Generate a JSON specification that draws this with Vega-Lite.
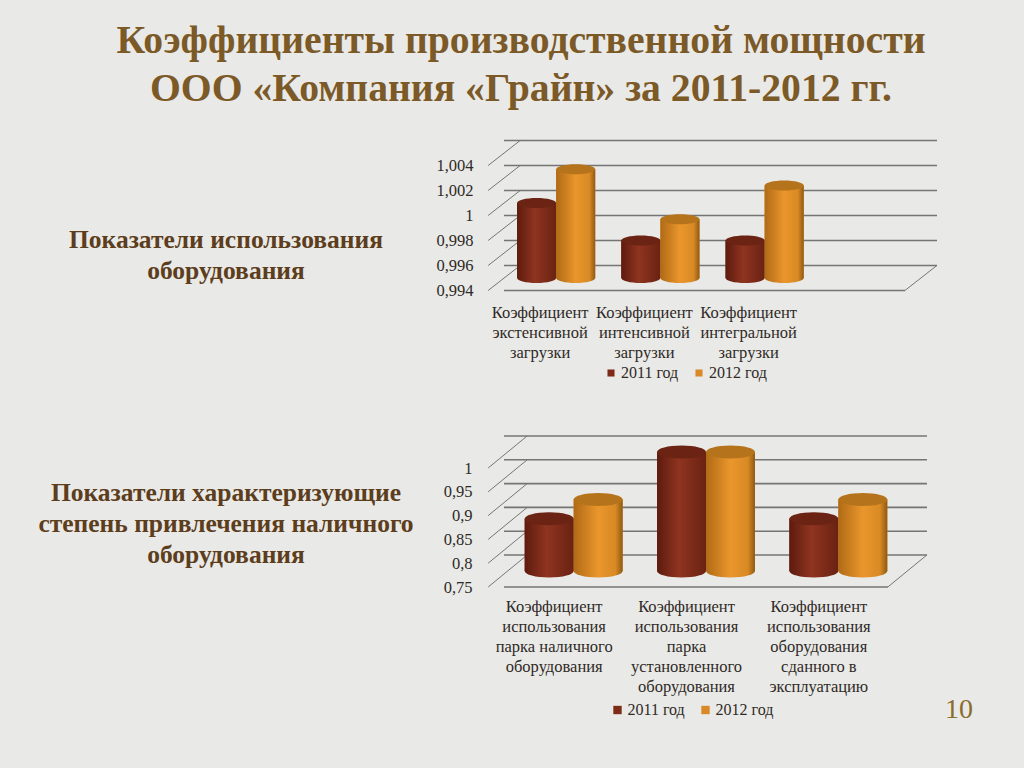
{"$schema":"https://vega.github.io/schema/vega-lite/v6.json","padding":{"left":0,"top":20,"right":0,"bottom":0},"background":"#e9e9e7","title":{"text":["Коэффициенты производственной мощности","ООО «Компания «Грайн» за 2011-2012 гг."],"font":"Liberation Serif","fontWeight":"bold","fontSize":39.7,"lineHeight":48,"color":"#7b5a28","anchor":"start","align":"center","dx":521,"offset":29},"config":{"view":{"stroke":null},"font":"Liberation Serif","axisY":{"labelOverlap":false}},"columns":3,"spacing":{"row":174,"column":0},"bounds":"flush","align":"all","resolve":{"scale":{"color":"independent","xOffset":"independent"},"legend":{"color":"independent"}},"datasets":{"a":[{"cat":"Коэффициент\nэкстенсивной\nзагрузки","series":"2011 год","val":1.0},{"cat":"Коэффициент\nэкстенсивной\nзагрузки","series":"2012 год","val":1.0027},{"cat":"Коэффициент\nинтенсивной\nзагрузки","series":"2011 год","val":0.997},{"cat":"Коэффициент\nинтенсивной\nзагрузки","series":"2012 год","val":0.9987},{"cat":"Коэффициент\nинтегральной\nзагрузки","series":"2011 год","val":0.997},{"cat":"Коэффициент\nинтегральной\nзагрузки","series":"2012 год","val":1.0014}],"b":[{"cat":"Коэффициент\nиспользования\nпарка наличного\nоборудования","series":"2011 год","val":0.86},{"cat":"Коэффициент\nиспользования\nпарка наличного\nоборудования","series":"2012 год","val":0.9},{"cat":"Коэффициент\nиспользования\nпарка\nустановленного\nоборудования","series":"2011 год","val":1.0},{"cat":"Коэффициент\nиспользования\nпарка\nустановленного\nоборудования","series":"2012 год","val":1.0},{"cat":"Коэффициент\nиспользования\nоборудования\nсданного в\nэксплуатацию","series":"2011 год","val":0.86},{"cat":"Коэффициент\nиспользования\nоборудования\nсданного в\nэксплуатацию","series":"2012 год","val":0.9}],"ta":[{"v":0.994},{"v":0.996},{"v":0.998},{"v":1.0},{"v":1.002},{"v":1.004}],"tb":[{"v":0.75},{"v":0.8},{"v":0.85},{"v":0.9},{"v":0.95},{"v":1.0}]},"concat":[{"width":504,"height":125,"data":{"values":[{"t":"Показатели использования\nоборудования"}]},"mark":{"type":"text","font":"Liberation Serif","fontWeight":"bold","fontSize":25.5,"lineHeight":31,"lineBreak":"\n","color":"#5c3d1c","dx":-26,"dy":24},"encoding":{"text":{"field":"t"}}},{"width":417,"height":125,"layer":[{"data":{"name":"ta"},"mark":{"type":"rule","color":"#757575","strokeWidth":1.6,"xOffset":16,"yOffset":-12.5},"encoding":{"y":{"field":"v","type":"quantitative","scale":{"domain":[0.994,1.004],"zero":false,"nice":false},"title":null,"axis":{"values":[0.994,0.996,0.998,1,1.002,1.004],"tickCount":6,"grid":false,"domain":false,"ticks":false,"labelPadding":31,"labelOffset":12.5,"labelFontSize":16.5,"labelColor":"#2f2a26","labelFont":"Liberation Serif","labelOverlap":false,"labelSeparation":0,"labelBound":false,"labelAlign":"right","labelBaseline":"middle","labelExpr":"replace(format(datum.value,'.3~f'),'.',',')"}}}},{"data":{"values":[{"v":0.994}]},"mark":{"type":"rule","color":"#757575","strokeWidth":1.6,"xOffset":-16,"yOffset":12.5},"encoding":{"y":{"field":"v","type":"quantitative"}}},{"data":{"name":"ta"},"mark":{"type":"point","shape":"M-68,12.5L-36,-12.5","size":4,"filled":false,"stroke":"#757575","strokeWidth":1,"opacity":1},"encoding":{"x":{"datum":"Коэффициент\nэкстенсивной\nзагрузки"},"y":{"field":"v","type":"quantitative"}}},{"data":{"values":[{"v":0.994}]},"mark":{"type":"point","shape":"M36,12.5L68,-12.5","size":4,"filled":false,"stroke":"#757575","strokeWidth":1,"opacity":1},"encoding":{"x":{"datum":" "},"y":{"field":"v","type":"quantitative"}}},{"data":{"name":"a"},"encoding":{"x":{"field":"cat","type":"nominal","title":null,"scale":{"type":"band","domain":["Коэффициент\nэкстенсивной\nзагрузки","Коэффициент\nинтенсивной\nзагрузки","Коэффициент\nинтегральной\nзагрузки"," "],"paddingInner":0.25,"paddingOuter":0.125},"axis":{"domain":false,"ticks":false,"labelAngle":0,"labelAlign":"center","labelBaseline":"top","labelPadding":26,"labelOffset":-16,"labelFontSize":16.5,"labelLineHeight":20,"labelColor":"#2f2a26","labelFont":"Liberation Serif","labelLimit":300,"labelExpr":"split(datum.value,'\\n')"}},"xOffset":{"field":"series","type":"nominal","scale":{"domain":["2011 год","2012 год"],"paddingInner":0,"paddingOuter":0}},"y":{"field":"val","type":"quantitative"}},"layer":[{"mark":{"type":"bar"},"encoding":{"y2":{"datum":0.994},"color":{"field":"series","type":"nominal","scale":{"domain":["2011 год","2012 год"],"range":["#7e2b18","#d98a26"]},"legend":{"title":null,"orient":"none","legendX":99,"legendY":212,"direction":"horizontal","columns":2,"symbolType":"square","symbolSize":50,"labelFontSize":16,"labelFont":"Liberation Serif","labelColor":"#2f2a26","columnPadding":12,"labelOffset":2,"symbolStrokeWidth":0}}}},{"transform":[{"filter":"datum.series=='2011 год'"}],"layer":[{"mark":{"type":"point","shape":"M-19.5,0A19.5,5 0 1,0 19.5,0A19.5,5 0 1,0 -19.5,0Z","size":4,"filled":true,"opacity":1,"fill":{"gradient":"linear","x1":0,"x2":1,"y1":0,"y2":0,"stops":[{"offset":0,"color":"#5d1b0e"},{"offset":0.45,"color":"#8f3420"},{"offset":1,"color":"#6a2212"}]}},"encoding":{"y":{"datum":0.994}}},{"mark":{"type":"bar","color":{"gradient":"linear","x1":0,"x2":1,"y1":0,"y2":0,"stops":[{"offset":0,"color":"#5d1b0e"},{"offset":0.45,"color":"#8f3420"},{"offset":1,"color":"#6a2212"}]}},"encoding":{"y2":{"datum":0.994}}},{"mark":{"type":"point","shape":"M-19.5,0A19.5,5 0 1,0 19.5,0A19.5,5 0 1,0 -19.5,0Z","size":4,"filled":true,"opacity":1,"fill":"#6b2313"}}]},{"transform":[{"filter":"datum.series=='2012 год'"}],"layer":[{"mark":{"type":"point","shape":"M-19.5,0A19.5,5 0 1,0 19.5,0A19.5,5 0 1,0 -19.5,0Z","size":4,"filled":true,"opacity":1,"fill":{"gradient":"linear","x1":0,"x2":1,"y1":0,"y2":0,"stops":[{"offset":0,"color":"#b06a16"},{"offset":0.5,"color":"#ea962c"},{"offset":0.85,"color":"#d98a24"},{"offset":1,"color":"#8f5a14"}]}},"encoding":{"y":{"datum":0.994}}},{"mark":{"type":"bar","color":{"gradient":"linear","x1":0,"x2":1,"y1":0,"y2":0,"stops":[{"offset":0,"color":"#b06a16"},{"offset":0.5,"color":"#ea962c"},{"offset":0.85,"color":"#d98a24"},{"offset":1,"color":"#8f5a14"}]}},"encoding":{"y2":{"datum":0.994}}},{"mark":{"type":"point","shape":"M-19.5,0A19.5,5 0 1,0 19.5,0A19.5,5 0 1,0 -19.5,0Z","size":4,"filled":true,"opacity":1,"fill":"#b5741c"}}]}]}]},{"width":39,"height":125,"data":{"values":[{"t":""}]},"mark":{"type":"text"},"encoding":{"text":{"field":"t"}}},{"width":504,"height":119,"data":{"values":[{"t":"Показатели характеризующие\nстепень привлечения наличного\nоборудования"}]},"mark":{"type":"text","font":"Liberation Serif","fontWeight":"bold","fontSize":25.5,"lineHeight":31,"lineBreak":"\n","color":"#5c3d1c","dx":-26,"dy":-18.5},"encoding":{"text":{"field":"t"}}},{"width":400,"height":119,"layer":[{"data":{"name":"tb"},"mark":{"type":"rule","color":"#757575","strokeWidth":1.6,"xOffset":23,"yOffset":-16},"encoding":{"y":{"field":"v","type":"quantitative","scale":{"domain":[0.75,1.0],"zero":false,"nice":false},"title":null,"axis":{"values":[0.75,0.8,0.85,0.9,0.95,1],"tickCount":6,"grid":false,"domain":false,"ticks":false,"labelPadding":32,"labelOffset":16,"labelFontSize":16.5,"labelColor":"#2f2a26","labelFont":"Liberation Serif","labelOverlap":false,"labelSeparation":0,"labelBound":false,"labelAlign":"right","labelBaseline":"middle","labelExpr":"replace(format(datum.value,'.2~f'),'.',',')"}}}},{"data":{"values":[{"v":0.75}]},"mark":{"type":"rule","color":"#757575","strokeWidth":1.6,"xOffset":-16,"yOffset":16},"encoding":{"y":{"field":"v","type":"quantitative"}}},{"data":{"name":"tb"},"mark":{"type":"point","shape":"M-85.5,16L-46.5,-16","size":4,"filled":false,"stroke":"#757575","strokeWidth":1,"opacity":1},"encoding":{"x":{"datum":"Коэффициент\nиспользования\nпарка наличного\nоборудования"},"y":{"field":"v","type":"quantitative"}}},{"data":{"values":[{"v":0.75}]},"mark":{"type":"point","shape":"M49.5,16L88.5,-16","size":4,"filled":false,"stroke":"#757575","strokeWidth":1,"opacity":1},"encoding":{"x":{"datum":"Коэффициент\nиспользования\nоборудования\nсданного в\nэксплуатацию"},"y":{"field":"v","type":"quantitative"}}},{"data":{"name":"b"},"encoding":{"x":{"field":"cat","type":"nominal","title":null,"scale":{"type":"band","range":[3.5,400.5],"domain":["Коэффициент\nиспользования\nпарка наличного\nоборудования","Коэффициент\nиспользования\nпарка\nустановленного\nоборудования","Коэффициент\nиспользования\nоборудования\nсданного в\nэксплуатацию"],"paddingInner":0.26,"paddingOuter":0.13},"axis":{"domain":false,"ticks":false,"labelAngle":0,"labelAlign":"center","labelBaseline":"top","labelPadding":27,"labelOffset":-19.5,"labelFontSize":16.5,"labelLineHeight":20,"labelColor":"#2f2a26","labelFont":"Liberation Serif","labelLimit":300,"labelExpr":"split(datum.value,'\\n')"}},"xOffset":{"field":"series","type":"nominal","scale":{"domain":["2011 год","2012 год"],"paddingInner":0,"paddingOuter":0}},"y":{"field":"val","type":"quantitative"}},"layer":[{"mark":{"type":"bar"},"encoding":{"y2":{"datum":0.75},"color":{"field":"series","type":"nominal","scale":{"domain":["2011 год","2012 год"],"range":["#7e2b18","#d98a26"]},"legend":{"title":null,"orient":"none","legendX":105.5,"legendY":250,"direction":"horizontal","columns":2,"symbolType":"square","symbolSize":70,"labelFontSize":16,"labelFont":"Liberation Serif","labelColor":"#2f2a26","columnPadding":12,"labelOffset":2,"symbolStrokeWidth":0}}}},{"transform":[{"filter":"datum.series=='2011 год'"}],"layer":[{"mark":{"type":"point","shape":"M-24.5,0A24.5,6.5 0 1,0 24.5,0A24.5,6.5 0 1,0 -24.5,0Z","size":4,"filled":true,"opacity":1,"fill":{"gradient":"linear","x1":0,"x2":1,"y1":0,"y2":0,"stops":[{"offset":0,"color":"#5d1b0e"},{"offset":0.45,"color":"#8f3420"},{"offset":1,"color":"#6a2212"}]}},"encoding":{"y":{"datum":0.75}}},{"mark":{"type":"bar","color":{"gradient":"linear","x1":0,"x2":1,"y1":0,"y2":0,"stops":[{"offset":0,"color":"#5d1b0e"},{"offset":0.45,"color":"#8f3420"},{"offset":1,"color":"#6a2212"}]}},"encoding":{"y2":{"datum":0.75}}},{"mark":{"type":"point","shape":"M-24.5,0A24.5,6.5 0 1,0 24.5,0A24.5,6.5 0 1,0 -24.5,0Z","size":4,"filled":true,"opacity":1,"fill":"#6b2313"}}]},{"transform":[{"filter":"datum.series=='2012 год'"}],"layer":[{"mark":{"type":"point","shape":"M-24.5,0A24.5,6.5 0 1,0 24.5,0A24.5,6.5 0 1,0 -24.5,0Z","size":4,"filled":true,"opacity":1,"fill":{"gradient":"linear","x1":0,"x2":1,"y1":0,"y2":0,"stops":[{"offset":0,"color":"#b06a16"},{"offset":0.5,"color":"#ea962c"},{"offset":0.85,"color":"#d98a24"},{"offset":1,"color":"#8f5a14"}]}},"encoding":{"y":{"datum":0.75}}},{"mark":{"type":"bar","color":{"gradient":"linear","x1":0,"x2":1,"y1":0,"y2":0,"stops":[{"offset":0,"color":"#b06a16"},{"offset":0.5,"color":"#ea962c"},{"offset":0.85,"color":"#d98a24"},{"offset":1,"color":"#8f5a14"}]}},"encoding":{"y2":{"datum":0.75}}},{"mark":{"type":"point","shape":"M-24.5,0A24.5,6.5 0 1,0 24.5,0A24.5,6.5 0 1,0 -24.5,0Z","size":4,"filled":true,"opacity":1,"fill":"#b5741c"}}]}]}]},{"width":39,"height":119,"data":{"values":[{"t":""}]},"mark":{"type":"text"},"encoding":{"text":{"field":"t"}}},{"width":504,"height":21,"data":{"values":[{"t":"10"}]},"mark":{"type":"text","font":"Liberation Serif","fontSize":28,"color":"#8a6d2c","dx":707,"dy":-51.5},"encoding":{"text":{"field":"t"}}},{"width":417,"height":21,"data":{"values":[{"t":""}]},"mark":{"type":"text"},"encoding":{"text":{"field":"t"}}},{"width":39,"height":21,"data":{"values":[{"t":""}]},"mark":{"type":"text"},"encoding":{"text":{"field":"t"}}}]}
